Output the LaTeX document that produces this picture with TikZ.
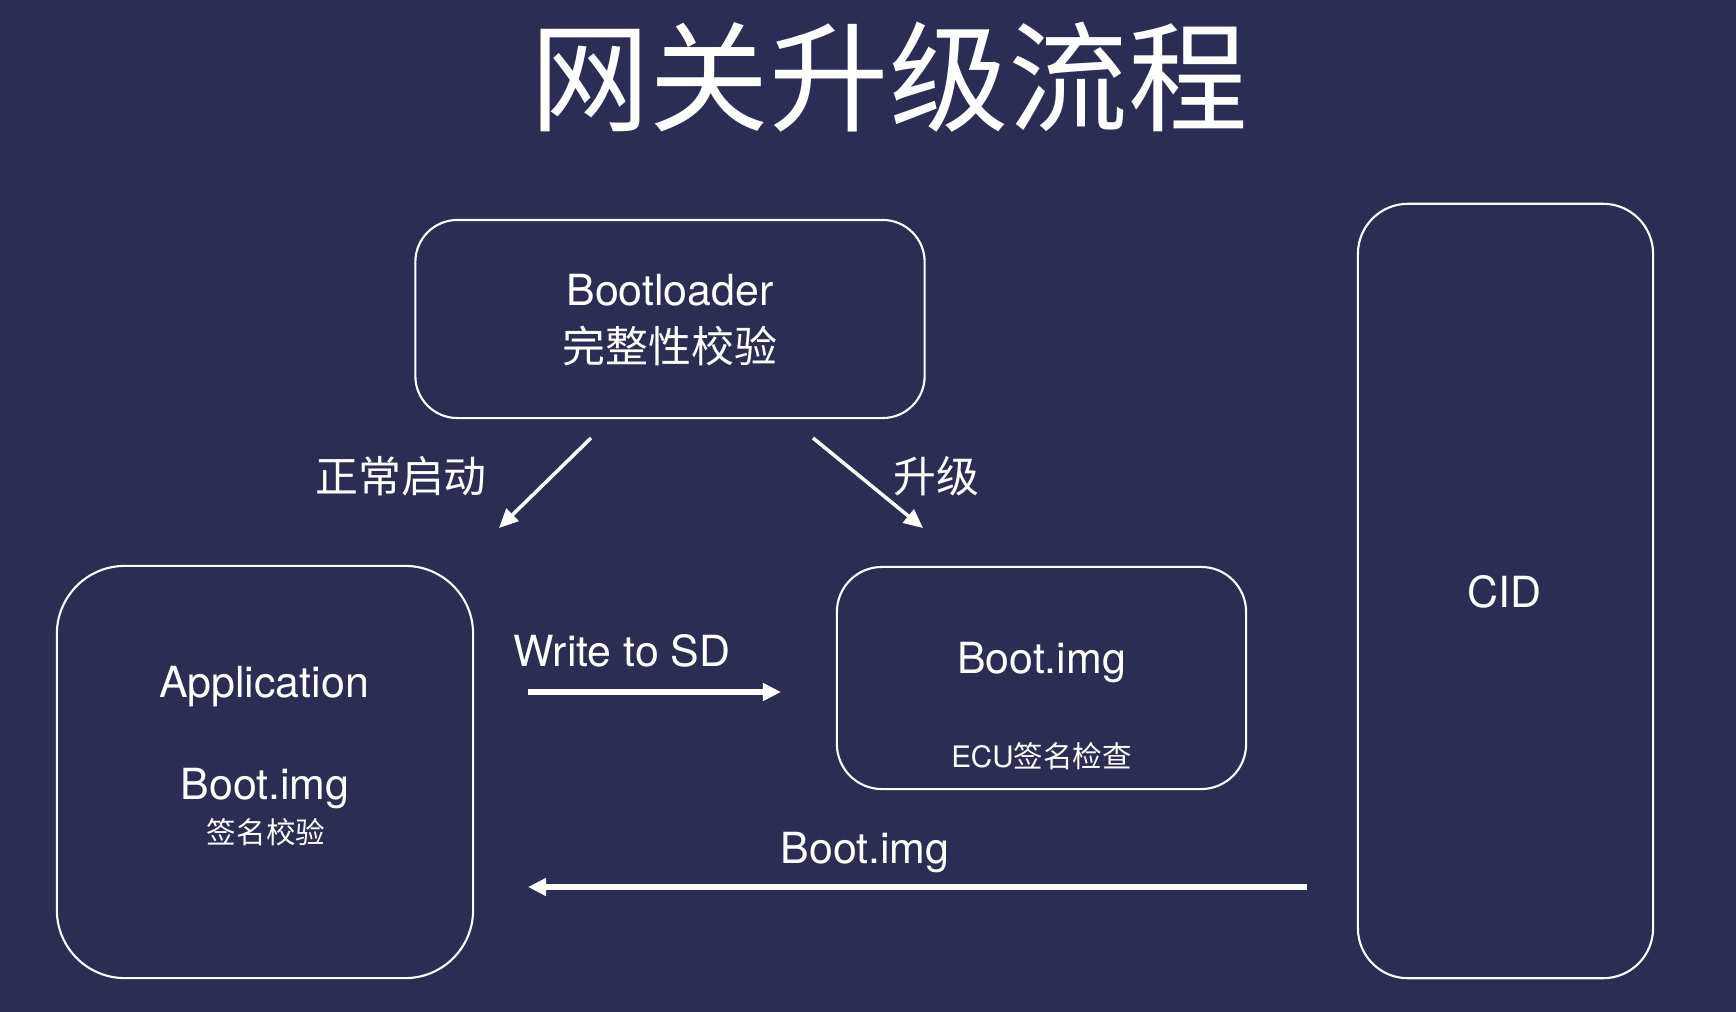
\documentclass[tikz,border=0pt]{standalone}
\usepackage{fontspec}
\setmainfont{TeX Gyre Heros}
\newfontfamily\cjk{Noto Sans CJK SC}
\usepackage{tikz}
\usetikzlibrary{calc,arrows.meta}
\definecolor{navy}{RGB}{43,45,85}
\def\boxnode{\node[draw=white,line width=0.6pt,inner sep=0pt]}
\def\txtnode{\node[text=white,anchor=base,inner sep=0pt,font=\fontsize{12.2}{14}\selectfont]}
\def\smallnode{\node[text=white,anchor=base,inner sep=0pt,font=\fontsize{8.4}{10}\selectfont]}
\def\drawarrow{\draw[white,line width=1pt,-{Triangle[length=0.19cm,width=0.17cm]}]}
\def\drawflow{\draw[white,line width=1.5pt,-{Triangle[length=0.18cm,width=0.17cm]}]}

\begin{document}
\begin{tikzpicture}[x=0.01cm,y=-0.01cm]
\fill[navy] (0,0) rectangle (1736,1012); % background sets the page size
\node[text=white,anchor=base,inner sep=0pt,font=\fontsize{34}{40}\selectfont\cjk] (title) at (889,122) {网关升级流程};

% Bootloader on top
\coordinate (o) at (670,319);
\boxnode[minimum width=5.09cm,minimum height=1.98cm,rounded corners=0.42cm] (boot) at (o) {};
\txtnode (boot_name) at ($ (o) + (0,-14) $) {Bootloader};
\txtnode (boot_check) at ($ (o) + (0,43) $) {\cjk 完整性校验};

% the two ways out of the bootloader
\coordinate (normal_start) at ($ (o) + (-79,119) $);
\coordinate (normal_end) at ($ (o) + (-171,209) $);
\coordinate (upgrade_start) at ($ (o) + (143,119) $);
\coordinate (upgrade_end) at ($ (o) + (253,209) $);
\drawarrow (normal_start) to (normal_end);
\drawarrow (upgrade_start) to (upgrade_end);
\txtnode (normal_label) at (401,492) {\cjk 正常启动};
\txtnode (upgrade_label) at (936,492) {\cjk 升级};

% Application
\coordinate (app_c) at (265,772);
\boxnode[minimum width=4.16cm,minimum height=4.12cm,rounded corners=0.68cm] (app) at (app_c) {};
\txtnode (app_name) at ($ (app_c) + (-1,-75) $) {Application};
\txtnode (app_img) at ($ (app_c) + (0,27) $) {Boot.img};
\smallnode (app_check) at ($ (app_c) + (1,71) $) {\cjk 签名校验};

% Boot.img for the ECU
\coordinate (img_c) at (1041.5,678);
\boxnode[minimum width=4.09cm,minimum height=2.22cm,rounded corners=0.45cm] (img) at (img_c) {};
\txtnode (img_name) at ($ (img_c) + (0,-5) $) {Boot.img};
\smallnode (img_check) at ($ (img_c) + (0,89) $) {ECU{\cjk 签名检查}};

% CID
\coordinate (cid_c) at (1505.5,591);
\boxnode[minimum width=2.95cm,minimum height=7.74cm,rounded corners=0.5cm] (cid) at (cid_c) {};
\txtnode (cid_name) at ($ (cid_c) + (-1,16) $) {CID};

% write to SD and back from CID
\coordinate (write_start) at (528,692);
\coordinate (write_end) at (781,692);
\drawflow (write_start) to (write_end);
\txtnode (write_label) at (622,666) {Write to SD};
\coordinate (back_start) at (1307,887);
\coordinate (back_end) at (528,887);
\drawflow (back_start) to (back_end);
\txtnode (back_label) at (865,863) {Boot.img};
\end{tikzpicture}
\end{document}
